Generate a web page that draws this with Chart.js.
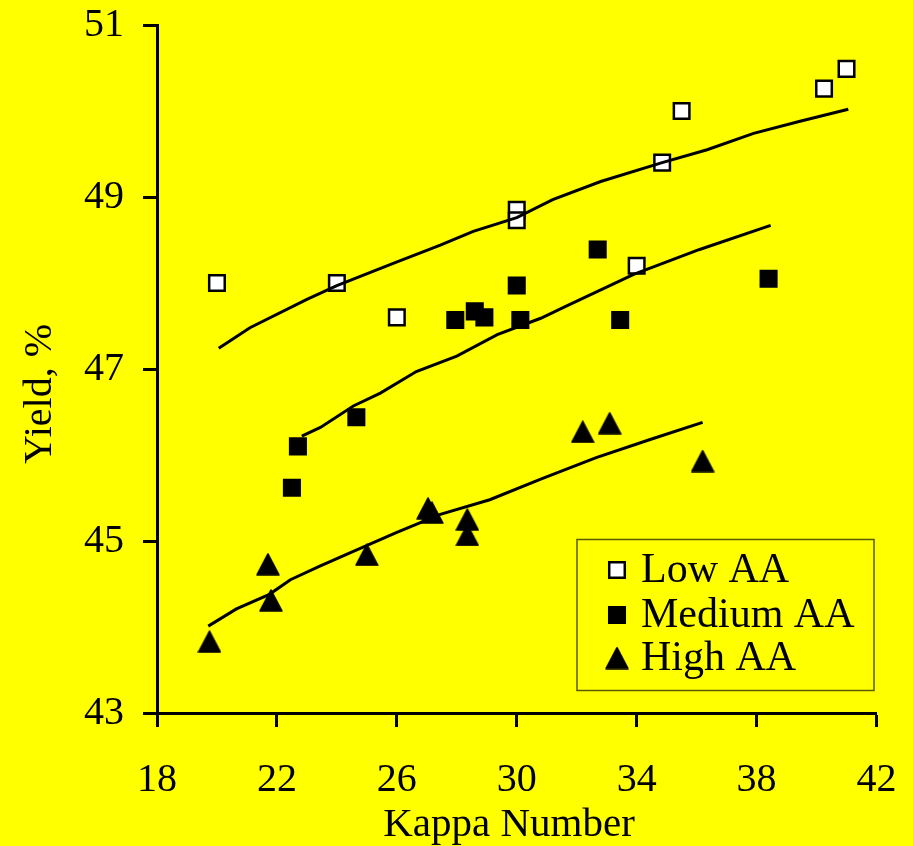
<!DOCTYPE html>
<html>
<head>
<meta charset="utf-8">
<title>Yield vs Kappa Number</title>
<script src="https://cdn.jsdelivr.net/npm/chart.js@4/dist/chart.umd.min.js"></script>
<style>
    html, body {
        margin: 0;
        padding: 0;
        background: #ffff00;
    }
    #kappaChart {
        display: block;
    }
</style>
</head>
<body>
<canvas id="kappaChart" width="913" height="846"></canvas>
<script>
// Measured pulp yield (%) against kappa number, three AA charge levels
const lowKappa = [20, 24, 26, 30, 30, 34, 34.85, 35.5, 40.25, 41];
const lowYield = [48.0, 48.0, 47.6, 48.85, 48.73, 48.2, 49.4, 50.0, 50.26, 50.49];

const mediumKappa = [22.5, 22.7, 24.65, 27.95, 28.6, 28.92, 30.0, 30.12, 32.7, 33.45, 38.4];
const mediumYield = [45.62, 46.1, 46.44, 47.57, 47.67, 47.6, 47.97, 47.57, 48.39, 47.57, 48.05];

const highKappa = [19.75, 21.7, 21.8, 25.0, 27.04, 27.17, 28.35, 28.35, 32.2, 33.1, 36.2];
const highYield = [43.83, 44.73, 44.31, 44.84, 45.38, 45.33, 45.25, 45.07, 46.27, 46.37, 45.93];

// Trend curves for each AA level
const lowTrendKappa = [20.06, 21.1, 23.0, 24.0, 25.9, 27.45, 28.55, 30.0, 31.2, 32.8, 34.85, 36.35, 37.9, 39.45, 41.06];
const lowTrendYield = [47.24, 47.48, 47.81, 47.97, 48.23, 48.44, 48.6, 48.76, 48.97, 49.18, 49.4, 49.55, 49.74, 49.88, 50.02];

const mediumTrendKappa = [22.83, 23.45, 24.55, 25.45, 26.65, 28.0, 29.35, 30.8, 31.65, 33.9, 36.1, 38.47];
const mediumTrendYield = [46.22, 46.32, 46.57, 46.72, 46.97, 47.15, 47.4, 47.59, 47.73, 48.1, 48.39, 48.67];

const highTrendKappa = [19.71, 20.65, 21.75, 22.45, 23.45, 24.55, 26.0, 27.45, 29.1, 30.8, 32.65, 34.45, 36.2];
const highTrendYield = [44.01, 44.21, 44.38, 44.55, 44.71, 44.88, 45.10, 45.31, 45.48, 45.72, 45.97, 46.18, 46.38];

// Axis ticks
const kappaTicks = [18, 22, 26, 30, 34, 38, 42];
const yieldTicks = [43, 45, 47, 49, 51];

const serif = "'Liberation Serif', 'Times New Roman', serif";

const toPoints = (xs, ys) => xs.map((x, i) => ({ x: x, y: ys[i] }));

/**
 * Filled triangle marker, centred on its bounding box
 */
const makeTriangle = () => {
    const c = document.createElement('canvas');
    c.width = 24;
    c.height = 23;
    const g = c.getContext('2d');
    g.fillStyle = '#000';
    g.strokeStyle = '#000';
    g.lineWidth = 1.5;
    g.lineJoin = 'round';
    g.beginPath();
    g.moveTo(12, 1);
    g.lineTo(23, 22);
    g.lineTo(1, 22);
    g.closePath();
    g.fill();
    g.stroke();
    return c;
};
const triangleMarker = makeTriangle();

const markerSets = [
    {
        label: 'Low AA',
        data: toPoints(lowKappa, lowYield),
        pointStyle: 'rect',
        pointRadius: 11,
        pointBorderWidth: 2.5,
        backgroundColor: '#ffffff',
        borderColor: '#000000'
    },
    {
        label: 'Medium AA',
        data: toPoints(mediumKappa, mediumYield),
        pointStyle: 'rect',
        pointRadius: 11,
        pointBorderWidth: 2.5,
        backgroundColor: '#000000',
        borderColor: '#000000'
    },
    {
        label: 'High AA',
        data: toPoints(highKappa, highYield),
        pointStyle: triangleMarker,
        pointRadius: 11,
        pointBorderWidth: 0,
        backgroundColor: '#000000',
        borderColor: '#000000'
    }
];

const trendLine = (xs, ys) => ({
    data: toPoints(xs, ys),
    showLine: true,
    pointRadius: 0,
    borderColor: '#000000',
    borderWidth: 3,
    fill: false,
    order: 0
});

const trendSets = [
    trendLine(lowTrendKappa, lowTrendYield),
    trendLine(mediumTrendKappa, mediumTrendYield),
    trendLine(highTrendKappa, highTrendYield)
];

/**
 * Yellow page background, axis titles and boxed legend
 */
const decorations = {
    id: 'decorations',
    beforeDraw(chart) {
        const ctx = chart.ctx;
        ctx.save();
        ctx.fillStyle = '#ffff00';
        ctx.fillRect(0, 0, chart.width, chart.height);
        ctx.restore();
    },
    afterDraw(chart) {
        const ctx = chart.ctx;

        // x axis title
        ctx.save();
        ctx.font = '41px ' + serif;
        ctx.fillStyle = '#000';
        ctx.textAlign = 'center';
        ctx.textBaseline = 'alphabetic';
        ctx.fillText('Kappa Number', 509, 836);
        ctx.restore();

        // y axis title
        ctx.save();
        ctx.translate(40, 394);
        ctx.rotate(-Math.PI / 2);
        ctx.font = '40px ' + serif;
        ctx.fillStyle = '#000';
        ctx.textAlign = 'center';
        ctx.textBaseline = 'middle';
        ctx.fillText('Yield, %', 0, 0);
        ctx.restore();

        // legend box
        ctx.save();
        ctx.strokeStyle = '#5a5a00';
        ctx.lineWidth = 1.5;
        ctx.strokeRect(577, 539.5, 297, 151);

        const rows = [570, 615, 658];
        markerSets.forEach((ds, i) => {
            ctx.fillStyle = ds.backgroundColor;
            ctx.strokeStyle = ds.borderColor;
            ctx.lineWidth = ds.pointBorderWidth;
            Chart.helpers.drawPoint(ctx, {
                pointStyle: ds.pointStyle,
                radius: ds.pointRadius,
                borderWidth: ds.pointBorderWidth,
                rotation: 0
            }, 617, rows[i]);

            ctx.fillStyle = '#000';
            ctx.font = '42px ' + serif;
            ctx.textAlign = 'left';
            ctx.textBaseline = 'middle';
            ctx.fillText(ds.label, 641, rows[i] + 1);
        });
        ctx.restore();
    }
};

const axisTicks = (values) => (scale) => {
    scale.ticks = values.map(v => ({ value: v }));
};

// fixed axis box, no extra room reserved for label overhang
const fixSize = (prop, size) => (scale) => {
    scale[prop] = size;
    scale.paddingTop = 0;
    scale.paddingBottom = 0;
    scale.paddingLeft = 0;
    scale.paddingRight = 0;
};

new Chart(document.getElementById('kappaChart'), {
    type: 'scatter',
    data: {
        datasets: [
            ...trendSets,
            ...markerSets.map(ds => Object.assign({ order: 1 }, ds))
        ]
    },
    options: {
        responsive: false,
        animation: false,
        layout: {
            padding: { top: 25, right: 36.5, bottom: 0, left: 0 }
        },
        plugins: {
            legend: { display: false },
            tooltip: { enabled: false }
        },
        scales: {
            x: {
                type: 'linear',
                min: 18,
                max: 42,
                afterFit: fixSize('height', 133),
                afterBuildTicks: axisTicks(kappaTicks),
                border: { display: true, color: '#000', width: 3 },
                grid: {
                    drawOnChartArea: false,
                    drawTicks: true,
                    tickLength: 14,
                    tickWidth: 3,
                    tickColor: '#000'
                },
                ticks: {
                    color: '#000',
                    padding: 29,
                    maxRotation: 0,
                    autoSkip: false,
                    font: { family: serif, size: 40 }
                }
            },
            y: {
                type: 'linear',
                min: 43,
                max: 51,
                afterFit: fixSize('width', 157),
                afterBuildTicks: axisTicks(yieldTicks),
                border: { display: true, color: '#000', width: 3 },
                grid: {
                    drawOnChartArea: false,
                    drawTicks: true,
                    tickLength: 14,
                    tickWidth: 3,
                    tickColor: '#000'
                },
                ticks: {
                    color: '#000',
                    padding: 19,
                    autoSkip: false,
                    font: { family: serif, size: 40 }
                }
            }
        }
    },
    plugins: [decorations]
});
</script>
</body>
</html>
